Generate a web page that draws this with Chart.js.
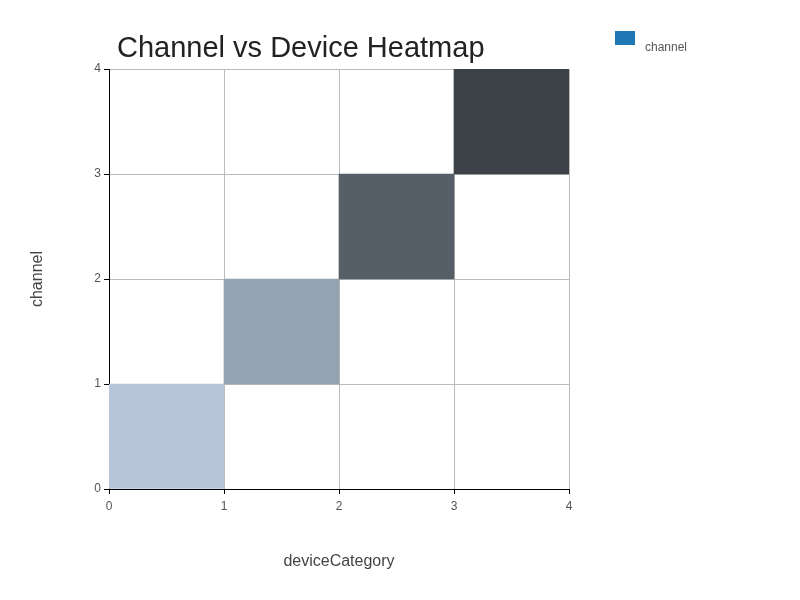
<!DOCTYPE html>
<html>
<head>
<meta charset="utf-8">
<script src="https://cdn.jsdelivr.net/npm/chart.js@4"></script>
<style>
  html, body { margin: 0; padding: 0; background: #ffffff; }
  #wrap { width: 800px; height: 600px; position: relative; }
</style>
</head>
<body>
<div id="wrap"><canvas id="c" width="800" height="600"></canvas></div>
<script>
// ---- data ----
const chartTitle = 'Channel vs Device Heatmap';
const xAxisTitle = 'deviceCategory';
const yAxisTitle = 'channel';
const seriesLabel = 'channel';
const legendColor = '#1f77b4';
// heatmap cells: deviceCategory index, channel index, cell colour
const deviceIndex  = [0, 1, 2, 3];
const channelIndex = [0, 1, 2, 3];
const cellColors   = ['#b6c6d8', '#94a3b1', '#565e68', '#3d4148'];
const xTicks = [0, 1, 2, 3, 4];
const yTicks = [0, 1, 2, 3, 4];

const FONT = "'Liberation Sans', Arial, Helvetica, sans-serif";

const cells = deviceIndex.map((d, i) => ({ x: d + 0.5, y: [channelIndex[i], channelIndex[i] + 1] }));

const placeBlocks = {
  id: 'placeBlocks',
  afterLayout(chart) {
    const ca = chart.chartArea;
    const t = chart.titleBlock;
    if (t) { t.left = ca.left + 8; }
    const lg = chart.legend;
    if (lg) {
      const ctx = chart.ctx;
      ctx.save();
      ctx.font = '12px ' + FONT;
      const tw = ctx.measureText(seriesLabel).width;
      ctx.restore();
      lg.left = ca.right + 36;
      lg.top = 21;
      lg.right = lg.left + 10 + 20 + 10 + tw;
      lg.bottom = lg.top + 80;
      lg.width = lg.right - lg.left;
      lg.height = lg.bottom - lg.top;
    }
  }
};

new Chart(document.getElementById('c'), {
  type: 'bar',
  data: {
    datasets: [{
      label: seriesLabel,
      data: cells,
      backgroundColor: cellColors,
      borderWidth: 0,
      categoryPercentage: 1,
      barPercentage: 1
    }]
  },
  plugins: [placeBlocks],
  options: {
    responsive: false,
    animation: false,
    devicePixelRatio: 1,
    layout: { padding: { left: 0, top: 0, right: 231, bottom: 0 } },
    plugins: {
      tooltip: { enabled: false },
      title: {
        display: true,
        text: chartTitle,
        align: 'start',
        color: '#222222',
        font: { family: FONT, size: 29, weight: 'normal', lineHeight: 1.2 },
        padding: { top: 31.5, bottom: 2.7 }
      },
      legend: {
        display: true,
        position: 'chartArea',
        align: 'start',
        labels: {
          boxWidth: 20,
          boxHeight: 14,
          padding: 10,
          color: '#555555',
          textAlign: 'right',
          font: { family: FONT, size: 12, lineHeight: 0.8 },
          generateLabels: (chart) => [{
            text: ['', seriesLabel],
            fillStyle: legendColor,
            strokeStyle: legendColor,
            fontColor: '#555555',
            lineWidth: 0,
            hidden: false,
            textAlign: 'right',
            datasetIndex: 0
          }]
        }
      }
    },
    scales: {
      x: {
        type: 'linear',
        min: xTicks[0],
        max: xTicks[xTicks.length - 1],
        offset: false,
        afterFit(scale) { scale.height = 111; },
        afterBuildTicks(scale) { scale.ticks = xTicks.map(v => ({ value: v })); },
        border: { display: true, color: '#000000', width: 1 },
        grid: { color: '#bbbbbb', lineWidth: 1, offset: false, drawTicks: true, tickLength: 5, tickColor: '#000000' },
        ticks: { color: '#555555', font: { family: FONT, size: 12 }, padding: 5, maxRotation: 0 },
        title: {
          display: true,
          text: xAxisTitle,
          color: '#444444',
          font: { family: FONT, size: 16 },
          padding: { top: 0, bottom: 29 }
        }
      },
      y: {
        type: 'linear',
        min: yTicks[0],
        max: yTicks[yTicks.length - 1],
        afterFit(scale) { scale.width = 109; },
        afterBuildTicks(scale) { scale.ticks = yTicks.map(v => ({ value: v })); },
        border: { display: true, color: '#000000', width: 1 },
        grid: { color: '#bbbbbb', lineWidth: 1, drawTicks: true, tickLength: 5, tickColor: '#000000' },
        ticks: { color: '#555555', font: { family: FONT, size: 12 }, padding: 3 },
        title: {
          display: true,
          text: yAxisTitle,
          color: '#444444',
          font: { family: FONT, size: 16 },
          padding: { top: 28, bottom: 0 }
        }
      }
    }
  }
});
</script>
</body>
</html>
